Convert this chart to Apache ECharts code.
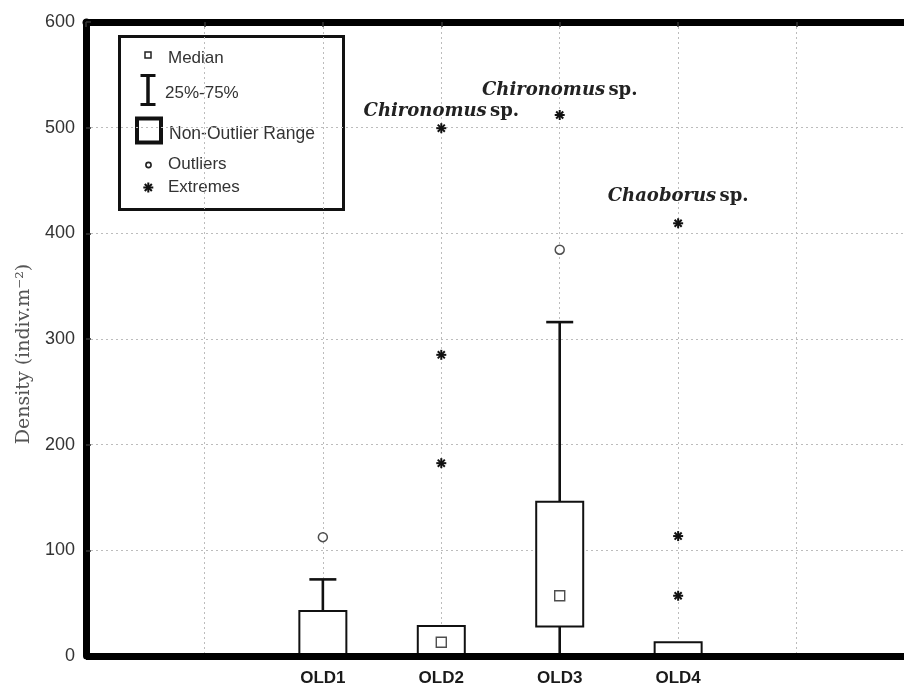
<!DOCTYPE html>
<html>
<head>
<meta charset="utf-8">
<script src="https://cdn.jsdelivr.net/npm/echarts@6/dist/echarts.min.js"></script>
<style>
  html, body { margin: 0; padding: 0; background: #fff; }
  #chart { width: 904px; height: 686px; }
</style>
</head>
<body>
<div id="chart"></div>
<script>
// Sampling sites and their position on the x scale
const categories = ['OLD1', 'OLD2', 'OLD3', 'OLD4'];
const sitePos = [2, 3, 4, 5];

// Box (25%-75%) limits, medians and whisker (non-outlier range) limits, indiv.m-2
const boxLow = [0, 0, 28, 0];
const boxHigh = [42.5, 28.5, 146, 13];
const medians = [null, 13, 57, null];
const whiskerLow = [0, 0, 0, 0];
const whiskerHigh = [72.5, 28.5, 316, 13];

// Outliers and extremes: [site index, value]
const outliers = [[0, 112.5], [2, 384.5]];
const extremes = [[1, 182.5], [1, 285], [1, 499.5], [2, 512], [3, 57], [3, 113.5], [3, 409.5]];

// Taxon names written above the largest extremes: [extreme index, genus]
const taxa = [[2, 'Chironomus'], [3, 'Chironomus'], [6, 'Chaoborus']];

// Y axis ticks
const yTicks = [0, 100, 200, 300, 400, 500, 600];

const labelLift = { 2: 17, 3: 25, 6: 27 };

const chart = echarts.init(document.getElementById('chart'));

const gridLine = { show: true, lineStyle: { color: '#bcbcbc', width: 1, type: [2, 3] } };

const boxData = categories.map((c, i) => [sitePos[i], boxLow[i], boxHigh[i]]);
const whiskerData = [];
categories.forEach((c, i) => {
  if (whiskerHigh[i] > boxHigh[i]) whiskerData.push([sitePos[i], boxHigh[i], whiskerHigh[i]]);
  if (whiskerLow[i] < boxLow[i]) whiskerData.push([sitePos[i], boxLow[i], whiskerLow[i]]);
});
const medianData = categories.map((c, i) => [sitePos[i], medians[i]]).filter(d => d[1] !== null);
const outlierData = outliers.map(d => [sitePos[d[0]], d[1]]);
const taxonOf = {};
taxa.forEach(t => { taxonOf[t[0]] = t[1]; });
const extremeData = extremes.map((d, k) => [sitePos[d[0]], d[1], k]);

function asterisk(cx, cy, r) {
  const lines = [];
  for (let a = 0; a < 4; a++) {
    const ang = a * Math.PI / 4;
    const dx = Math.cos(ang) * r, dy = Math.sin(ang) * r;
    lines.push({
      type: 'line',
      shape: { x1: cx - dx, y1: cy - dy, x2: cx + dx, y2: cy + dy },
      style: { stroke: '#111', lineWidth: 2 }
    });
  }
  return lines;
}

const serifRich = {
  i: { fontFamily: 'DejaVu Serif', fontStyle: 'italic', fontWeight: 'bold', fontSize: 18, fill: '#222' },
  b: { fontFamily: 'DejaVu Serif', fontWeight: 'bold', fontSize: 18, fill: '#222' }
};

const option = {
  backgroundColor: '#fff',
  animation: false,
  grid: { left: 86, width: 829, top: 22, bottom: 30, containLabel: false, outerBoundsMode: 'none' },
  xAxis: [{
    type: 'value', min: 0, max: 7, interval: 1, position: 'bottom',
    axisLine: { show: false },
    axisTick: { show: false },
    splitLine: gridLine,
    axisLabel: {
      margin: 14, fontFamily: 'Liberation Sans, Arial', fontWeight: 'bold', fontSize: 17, color: '#1a1a1a',
      formatter: v => { const i = sitePos.indexOf(v); return i >= 0 ? categories[i] : ''; }
    }
  }, {
    type: 'value', min: 0, max: 7, interval: 1, position: 'top',
    axisLine: { show: true, onZero: false, lineStyle: { color: '#000', width: 7 } },
    axisTick: { show: true, inside: true, length: 5, lineStyle: { color: '#333', width: 1.5 } },
    axisLabel: { show: false },
    splitLine: { show: false }
  }],
  yAxis: {
    type: 'value', min: yTicks[0], max: yTicks[yTicks.length - 1], interval: 100,
    axisLine: { show: true, onZero: false, lineStyle: { color: '#000', width: 7 } },
    axisTick: { show: true, inside: true, length: 5, lineStyle: { color: '#333', width: 1.5 } },
    splitLine: gridLine,
    axisLabel: { margin: 11, fontFamily: 'Liberation Sans, Arial', fontSize: 18, color: '#333' }
  },
  graphic: [
    {
      type: 'text', x: 24, y: 354, rotation: Math.PI / 2,
      style: {
        text: 'Density (indiv.m⁻²)', fontFamily: 'DejaVu Serif', fontSize: 19, fill: '#555',
        align: 'center', verticalAlign: 'middle'
      }
    },
    {
      type: 'group', z: 100,
      children: [
        { type: 'rect', shape: { x: 119.5, y: 36.5, width: 224, height: 173 },
          style: { fill: '#fff', stroke: '#111', lineWidth: 3 } },
        { type: 'rect', shape: { x: 145, y: 52, width: 6, height: 6 },
          style: { fill: '#fff', stroke: '#222', lineWidth: 1.5 } },
        { type: 'line', shape: { x1: 148, y1: 75, x2: 148, y2: 105 }, style: { stroke: '#111', lineWidth: 3.5 } },
        { type: 'line', shape: { x1: 140.5, y1: 75.5, x2: 155.5, y2: 75.5 }, style: { stroke: '#111', lineWidth: 3 } },
        { type: 'line', shape: { x1: 140.5, y1: 104.5, x2: 155.5, y2: 104.5 }, style: { stroke: '#111', lineWidth: 3 } },
        { type: 'rect', shape: { x: 137, y: 118.5, width: 24, height: 24 },
          style: { fill: '#fff', stroke: '#111', lineWidth: 4 } },
        { type: 'circle', shape: { cx: 148.5, cy: 165, r: 2.6 },
          style: { fill: '#fff', stroke: '#222', lineWidth: 1.6 } },
        { type: 'group', children: asterisk(148.3, 187.5, 5) },
        { type: 'text', x: 168, y: 58, style: { text: 'Median', fontFamily: 'Liberation Sans, Arial', fontSize: 17, fill: '#333', verticalAlign: 'middle' } },
        { type: 'text', x: 165, y: 93, style: { text: '25%-75%', fontFamily: 'Liberation Sans, Arial', fontSize: 17, fill: '#333', verticalAlign: 'middle' } },
        { type: 'text', x: 169, y: 134, style: { text: 'Non-Outlier Range', fontFamily: 'Liberation Sans, Arial', fontSize: 17.5, fill: '#333', verticalAlign: 'middle' } },
        { type: 'text', x: 168, y: 164, style: { text: 'Outliers', fontFamily: 'Liberation Sans, Arial', fontSize: 17, fill: '#333', verticalAlign: 'middle' } },
        { type: 'text', x: 168, y: 187, style: { text: 'Extremes', fontFamily: 'Liberation Sans, Arial', fontSize: 17, fill: '#333', verticalAlign: 'middle' } }
      ]
    }
  ],
  series: [
    {
      // whiskers: stem from box edge, cap at the end
      type: 'custom', z: 3, data: whiskerData,
      renderItem: (params, api) => {
        const a = api.coord([api.value(0), api.value(1)]);
        const b = api.coord([api.value(0), api.value(2)]);
        return {
          type: 'group', children: [
            { type: 'line', shape: { x1: a[0], y1: a[1], x2: b[0], y2: b[1] }, style: { stroke: '#111', lineWidth: 2.6 } },
            { type: 'line', shape: { x1: b[0] - 13.5, y1: b[1], x2: b[0] + 13.5, y2: b[1] }, style: { stroke: '#111', lineWidth: 2.6 } }
          ]
        };
      }
    },
    {
      // boxes
      type: 'custom', z: 4, data: boxData,
      renderItem: (params, api) => {
        const lo = api.coord([api.value(0), api.value(1)]);
        const hi = api.coord([api.value(0), api.value(2)]);
        const w = 47;
        return {
          type: 'rect',
          shape: { x: lo[0] - w / 2, y: hi[1], width: w, height: lo[1] - hi[1] },
          style: { fill: '#fff', stroke: '#111', lineWidth: 2 }
        };
      }
    },
    {
      type: 'scatter', z: 5, data: medianData, symbol: 'rect', symbolSize: 10,
      itemStyle: { color: '#fff', borderColor: '#222', borderWidth: 1.4 }
    },
    {
      type: 'scatter', z: 5, data: outlierData, symbol: 'circle', symbolSize: 9,
      itemStyle: { color: '#fff', borderColor: '#222', borderWidth: 1.5 }
    },
    {
      // extremes drawn as asterisks, with taxon names on the largest ones
      type: 'custom', z: 5, data: extremeData,
      renderItem: (params, api) => {
        const p = api.coord([api.value(0), api.value(1)]);
        const k = api.value(2);
        const children = asterisk(p[0], p[1], 5);
        if (taxonOf[k]) {
          children.push({
            type: 'text', x: p[0], y: p[1] - labelLift[k],
            style: {
              text: '{i|' + taxonOf[k] + '} {b|sp.}', rich: serifRich,
              align: 'center', verticalAlign: 'middle'
            }
          });
        }
        return { type: 'group', children };
      }
    },
    {
      // bottom frame line at zero, kept above the boxes
      type: 'line', z: 6, data: [], silent: true,
      markLine: {
        silent: true, symbol: 'none', animation: false,
        label: { show: false },
        lineStyle: { color: '#000', width: 7, type: 'solid' },
        data: [{ yAxis: 0 }]
      }
    }
  ]
};

chart.setOption(option);
</script>
</body>
</html>
